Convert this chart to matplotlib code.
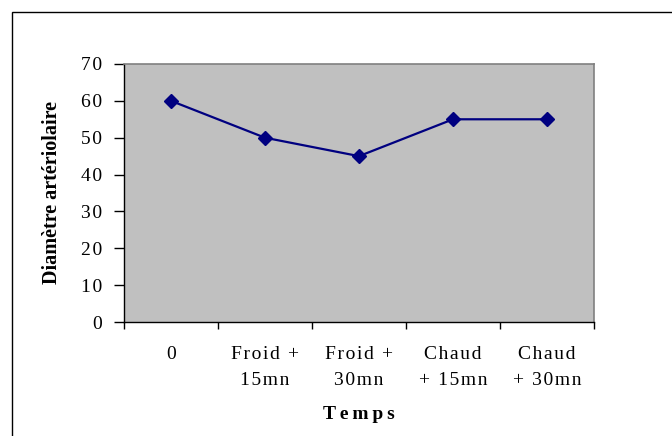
import matplotlib.pyplot as plt
from matplotlib.patches import Rectangle

plt.rcParams['font.family'] = ['Liberation Serif', 'DejaVu Serif']

categories = ["0", "Froid +\n15mn", "Froid +\n30mn", "Chaud\n+ 15mn", "Chaud\n+ 30mn"]
diametre = [60, 50, 45, 55, 55]
y_ticks = [0, 10, 20, 30, 40, 50, 60, 70]


def spaced(text, gap="\u200a"):
    # loose letter spacing, line by line
    return "\n".join(gap.join(line) for line in text.split("\n"))


W, H = 672, 436
fig = plt.figure(figsize=(W / 100, H / 100), dpi=100)
fig.patch.set_facecolor("white")

# outer frame of the chart object
fig.add_artist(Rectangle((12 / W, -0.01), 1.0, 1 - 12 / H + 0.01,
                         transform=fig.transFigure, fill=False,
                         edgecolor="black", linewidth=1.0))

ax = fig.add_axes([124 / W, 1 - 322 / H, (594 - 124) / W, (322 - 64) / H])
ax.set_facecolor("#c0c0c0")

x = range(len(categories))
ax.plot(x, diametre, color="#000080", linewidth=1.6, marker="D",
        markersize=7, markerfacecolor="#000080", markeredgecolor="#000080")

ax.set_xlim(-0.5, len(categories) - 0.5)
ax.set_ylim(0, 70)
ax.set_yticks(y_ticks)
ax.set_yticklabels([spaced(str(v)) for v in y_ticks], fontsize=14)

# ticks sit on the category boundaries, labels in the middle
ax.set_xticks([i - 0.5 for i in range(len(categories) + 1)])
ax.set_xticklabels([])
ax.set_xticks(list(x), minor=True)
ax.set_xticklabels([spaced(c) for c in categories], minor=True, fontsize=14,
                   linespacing=1.68, va="top")
ax.tick_params(axis="x", which="major", direction="out", length=5, width=1)
ax.tick_params(axis="x", which="minor", length=0, pad=17.5)
ax.tick_params(axis="y", direction="out", length=7.5, width=1, pad=8)

for side in ["top", "right"]:
    ax.spines[side].set_color("#808080")
    ax.spines[side].set_linewidth(1.2)
for side in ["left", "bottom"]:
    ax.spines[side].set_color("black")
    ax.spines[side].set_linewidth(1.0)

ax.set_ylabel("Diamètre artériolaire", fontsize=14.5, fontweight="bold",
              labelpad=14)
ax.set_xlabel(spaced("Temps", "\u2009"), fontsize=14, fontweight="bold",
              labelpad=12)

fig.savefig("out.png", dpi=100)
